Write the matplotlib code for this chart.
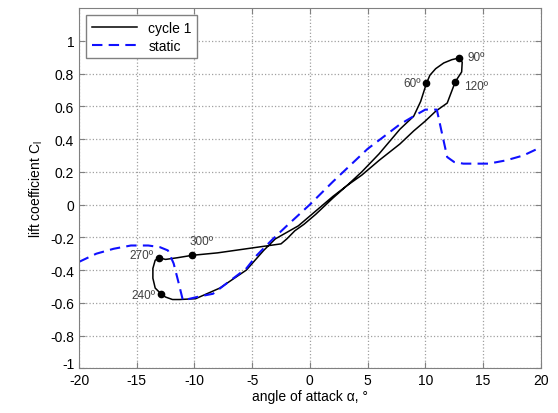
import numpy as np
import matplotlib.pyplot as plt
import matplotlib.transforms as mtransforms

plt.rcParams['font.family'] = ['Liberation Sans', 'DejaVu Sans']
plt.rcParams['axes.unicode_minus'] = False

# Static lift curve
static_alpha = [-20, -18.5, -17, -15.5, -14, -13, -12.3, -11.8, -11.4, -11.0, -10.4, -9.5, -8.4,
                -7, -5.5, -4.6, -3.2, -2, 0, 2, 3.5, 5, 6.5, 7.8, 9, 10, 11, 11.4, 11.9,
                12.5, 13.3, 14.2, 15.5, 17, 18.5, 20]
static_cl = [-0.35, -0.3, -0.27, -0.25, -0.25, -0.26, -0.28, -0.36, -0.47, -0.585, -0.575, -0.56, -0.545,
             -0.47, -0.39, -0.31, -0.21, -0.13, 0.0, 0.14, 0.24, 0.34, 0.42, 0.49, 0.54, 0.58, 0.58, 0.45, 0.29,
             0.26, 0.25, 0.25, 0.25, 0.27, 0.3, 0.35]

# Dynamic cycle 1 (loop, starting at 270 deg marker)
cycle_alpha = [-13.1, -12.5, -11.5, -10.2, -8, -6, -4, -3, -2.5, -2.0, -1.3, -0.5, 0.5, 2, 3.2,
               4.5, 6, 7.8, 9.0, 9.6, 10.1, 10.4, 10.9, 11.6, 12.3, 12.9, 13.2, 13.15, 12.6,
               11.9, 10.9, 10, 9, 7.8, 6, 4.5, 3.2, 2, 1, 0, -1, -2, -3, -4, -5.5, -7.8,
               -9.9, -11.3, -11.9, -12.5, -12.9, -13.4, -13.6, -13.6, -13.4, -13.1]
cycle_cl = [-0.325, -0.335, -0.325, -0.31, -0.295, -0.275, -0.255, -0.245, -0.24, -0.21, -0.16, -0.12, -0.06, 0.04, 0.115,
            0.2, 0.31, 0.46, 0.54, 0.63, 0.74, 0.79, 0.83, 0.865, 0.885, 0.895, 0.87, 0.81, 0.75,
            0.62, 0.57, 0.51, 0.45, 0.37, 0.27, 0.18, 0.115, 0.05, -0.01, -0.07, -0.13, -0.17, -0.21, -0.28, -0.4, -0.51,
            -0.575, -0.58, -0.58, -0.565, -0.545, -0.51, -0.45, -0.39, -0.34, -0.325]

# Phase markers
phase_labels = ['60º', '90º', '120º', '240º', '270º', '300º']
phase_alpha = [10.1, 12.9, 12.6, -12.9, -13.1, -10.2]
phase_cl = [0.74, 0.895, 0.75, -0.545, -0.325, -0.31]

fig = plt.figure(figsize=(5.58, 4.14), dpi=100)
ax = fig.add_axes([0.1416, 0.108, 0.8274, 0.870])

ax.plot(cycle_alpha, cycle_cl, color='black', linewidth=1.1, label='cycle 1')
ax.plot(static_alpha, static_cl, color='#1010ff', linewidth=1.5, dashes=(5, 3), label='static')
ax.plot(phase_alpha, phase_cl, 'o', color='black', markersize=4.5)

# Phase labels
offsets = {'60º': (-4, 0, 'right', 'center'), '90º': (6, 1, 'left', 'center'),
           '120º': (6, -3, 'left', 'center'), '240º': (-4, -1, 'right', 'center'),
           '270º': (-4, 2, 'right', 'center'), '300º': (-2, 10, 'left', 'center')}
for lab, a, c in zip(phase_labels, phase_alpha, phase_cl):
    dx, dy, ha, va = offsets[lab]
    ax.annotate(lab, (a, c), xytext=(dx, dy), textcoords='offset points',
                ha=ha, va=va, fontsize=8.5, color='#404040')

ax.set_xlim(-20, 20)
ax.set_ylim(-1, 1.2)
ax.set_xticks(np.arange(-20, 21, 5))
ax.set_yticks(np.round(np.arange(-1, 1.01, 0.2), 1))
ax.set_yticklabels(['-1', '-0.8', '-0.6', '-0.4', '-0.2', '0', '0.2', '0.4', '0.6', '0.8', '1'])
ax.grid(True, linestyle=':', color='#a0a0a0', linewidth=0.9)
ax.tick_params(direction='in', top=True, right=True, labelsize=10, length=4, color='#808080')
for s in ax.spines.values():
    s.set_color('#808080')

# lift the -1 label a little, as in the original
lbl = ax.get_yticklabels()[0]
lbl.set_transform(lbl.get_transform() + mtransforms.ScaledTranslation(0, 4 / 72, fig.dpi_scale_trans))

ax.set_xlabel('angle of attack α, °', fontsize=10, labelpad=1)
ax.set_ylabel('lift coefficient C$_\\mathregular{l}$', fontsize=10)

leg = ax.legend(loc='upper left', fontsize=10, handlelength=3.3, fancybox=False,
                edgecolor='#808080', framealpha=1, borderpad=0.4, labelspacing=0.3)
leg.get_frame().set_linewidth(1.0)

plt.savefig('out.png', dpi=100)
